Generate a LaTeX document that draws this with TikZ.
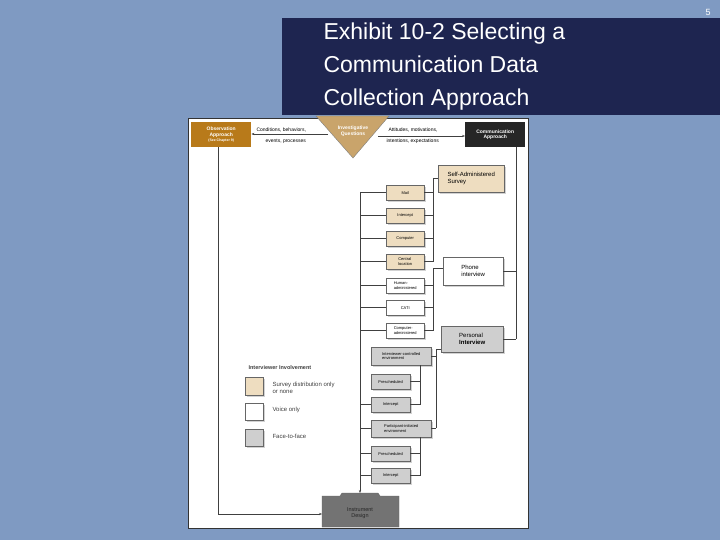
\documentclass[tikz,border=0pt]{standalone}
\usepackage{fontspec}
\setmainfont{Liberation Sans}
\usetikzlibrary{arrows.meta}
\definecolor{slidebg}{HTML}{7F9AC2}
\definecolor{navy}{HTML}{1E2550}
\definecolor{tanc}{HTML}{EEDDC0}
\definecolor{grayc}{HTML}{CFCFCF}
\definecolor{obsc}{HTML}{B87A1A}
\definecolor{tric}{HTML}{C9A46B}
\begin{document}
\begin{tikzpicture}[x=1pt,y=-1pt,
  box/.style={draw=gray!80!black,line width=0.4pt,anchor=north west,inner sep=1.5pt,align=left,font=\fontsize{4}{4.6}\selectfont,
    drop shadow={shadow xshift=1.5pt,shadow yshift=-1.5pt,fill=gray!70}},
  bigbox/.style={box,font=\fontsize{6}{7}\selectfont},
  ln/.style={line width=0.5pt,draw=black!75},
  lbl/.style={font=\fontsize{5}{6}\selectfont,align=left,anchor=west}]
\usetikzlibrary{shadows}
\fill[slidebg] (0,0) rectangle (720,540);
\useasboundingbox (0,0) rectangle (720,540);
\fill[navy] (282,18) rectangle (720,115);
\node[anchor=west,text=white,font=\fontsize{23}{33}\selectfont,align=left] (title) at (320,67) {Exhibit 10-2 Selecting a\\Communication Data\\Collection Approach};
\node[text=white,font=\fontsize{9}{10}\selectfont] (pg) at (708,12) {5};
% diagram panel
\fill[white,draw=black!80] (188,118) rectangle (528,528);
% top elements
\node[fill=obsc,text=white,minimum width=60pt,minimum height=25pt,inner sep=0pt,anchor=north west,align=center,font=\fontsize{5}{5.8}\selectfont\bfseries] (obs) at (191,122) {Observation\\Approach\\[-1pt]{\fontsize{3.5}{4}\selectfont(See Chapter 9)}};
\node[fill=black!85,text=white,minimum width=60pt,minimum height=25pt,inner sep=0pt,anchor=north west,align=center,font=\fontsize{5}{5.8}\selectfont\bfseries] (comm) at (465,122) {Communication\\Approach};
\filldraw[fill=tric,draw=gray] (316,116) -- (389,116) -- (353,158) -- cycle;
\node[font=\fontsize{5}{5.8}\selectfont\bfseries,align=center,text=white] (iq) at (353,131) {Investigative\\Questions};
\coordinate (tl) at (328,134);
\coordinate (tr) at (378,136);
\draw[ln,-{Stealth[length=3pt]}] (tl) -- (obs.east|-tl);
\draw[ln,-{Stealth[length=3pt]}] (tr) -- (comm.west|-tr);
\node[lbl] (l1) at (253,130) {Conditions, behaviors,};
\node[lbl] (l2) at (262,141) {events, processes};
\node[lbl] (r1) at (385,130) {Attitudes, motivations,};
\node[lbl] (r2) at (383,141) {intentions, expectations};
% main boxes
\node[bigbox,fill=tanc,minimum width=66pt,minimum height=27pt,anchor=north west] (sa) at (438,165) {Self-Administered\\Survey};
\node[bigbox,fill=white,minimum width=60pt,minimum height=28pt] (ph) at (443,257) {Phone\\interview};
\node[bigbox,fill=grayc,minimum width=62pt,minimum height=26pt] (pi) at (441,326) {Personal\\\textbf{Interview}};
% small boxes
\foreach \n/\y/\c/\t in {mail/185/tanc/Mail, int1/208/tanc/Intercept, comp/231/tanc/Computer, cen/254/tanc/{Central\\location}, hum/278/white/{Human-\\administered}, cati/300/white/CATI, cadm/323/white/{Computer-\\administered}}
  \node[box,fill=\c,minimum width=38pt,minimum height=15pt] (\n) at (386,\y) {\t};
\node[box,fill=grayc,minimum width=60pt,minimum height=18pt] (ice) at (371,347) {Interviewer-controlled\\environment};
\node[box,fill=grayc,minimum width=39pt,minimum height=15pt] (pre1) at (371,374) {Prescheduled};
\node[box,fill=grayc,minimum width=39pt,minimum height=15pt] (int2) at (371,397) {Intercept};
\node[box,fill=grayc,minimum width=60pt,minimum height=17pt] (pie) at (371,420) {Participant-initiated\\environment};
\node[box,fill=grayc,minimum width=39pt,minimum height=15pt] (pre2) at (371,446) {Prescheduled};
\node[box,fill=grayc,minimum width=39pt,minimum height=15pt] (int3) at (371,468) {Intercept};
% instrument design folder
\filldraw[fill=black!55,draw=black!60] (322,496) -- (340,496) -- (342,493) -- (378,493) -- (380,496) -- (399,496) -- (399,527) -- (322,527) -- cycle;
\node[font=\fontsize{5.5}{6.5}\selectfont,align=center,text=black!85] (ins) at (360,513) {Instrument\\Design};
\coordinate (insL) at (322,514);
\coordinate (insT) at (360,493);
% connectors
\draw[ln] (obs.south-|218,0) -- (218,514);
\draw[ln,-{Stealth[length=3pt]}] (218,514) -- (insL);
\draw[ln,-{Stealth[length=3pt]}] (360,192) -- (insT);
\foreach \n in {mail,int1,comp,cen,hum,cati,cadm,int2,pie,pre2,int3}
  \draw[ln] (360,0|-\n.west) -- (\n.west);
% self-admin bracket
\draw[ln] (433,178) -- (sa.west|-433,178);
\draw[ln] (433,178) -- (433,262);
\foreach \n in {mail,int1,comp,cen} \draw[ln] (\n.east) -- (433,0|-\n.east);
% phone bracket
\draw[ln] (433,268) -- (ph.west|-433,268);
\draw[ln] (433,268) -- (433,331);
\foreach \n in {hum,cati,cadm} \draw[ln] (\n.east) -- (433,0|-\n.east);
% comm right line
\draw[ln] (comm.south-|516,0) -- (516,339);
\draw[ln] (ph.east|-516,271) -- (516,271);
\draw[ln] (pi.east|-516,339) -- (516,339);
% personal bracket
\draw[ln] (436,349) -- (pi.west|-436,349);
\draw[ln] (436,349) -- (436,428);
\draw[ln] (ice.east) -- (436,0|-ice.east);
\draw[ln] (pie.east) -- (436,0|-pie.east);
\draw[ln] (420,0|-ice.south) -- (420,405);
\draw[ln] (pre1.east) -- (420,0|-pre1.east);
\draw[ln] (int2.east) -- (420,0|-int2.east);
\draw[ln] (420,0|-pie.south) -- (420,476);
\draw[ln] (pre2.east) -- (420,0|-pre2.east);
\draw[ln] (int3.east) -- (420,0|-int3.east);
% legend
\node[anchor=west,font=\fontsize{5.5}{6.5}\selectfont\bfseries,text=black!75] (lg) at (245,368) {Interviewer Involvement};
\node[box,fill=tanc,minimum width=18pt,minimum height=18pt] (k1) at (245,377) {};
\node[box,fill=white,minimum width=18pt,minimum height=17pt] (k2) at (245,403) {};
\node[box,fill=grayc,minimum width=18pt,minimum height=17pt] (k3) at (245,429) {};
\node[anchor=west,font=\fontsize{6}{7}\selectfont,align=left,text=black!75] (t1) at (269,388) {Survey distribution only\\or none};
\node[anchor=west,font=\fontsize{6}{7}\selectfont,text=black!75] (t2) at (269,410) {Voice only};
\node[anchor=west,font=\fontsize{6}{7}\selectfont,text=black!75] (t3) at (269,436) {Face-to-face};
\end{tikzpicture}
\end{document}
